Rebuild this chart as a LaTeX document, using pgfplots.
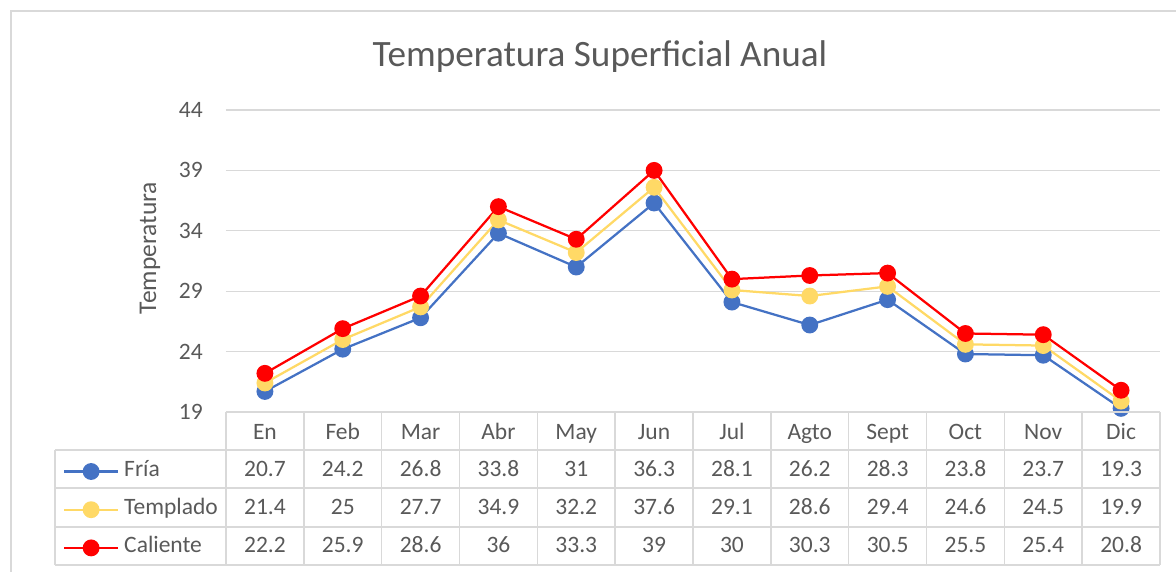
\documentclass[border=0pt]{standalone}
\usepackage{pgfplots}
\pgfplotsset{compat=1.18}
\usepackage{fontspec}
\setmainfont{Carlito}
\definecolor{txt}{HTML}{595959}
\definecolor{grd}{HTML}{D9D9D9}
\definecolor{cfria}{HTML}{4472C4}
\definecolor{ctemp}{HTML}{FFD966}
\definecolor{ccal}{HTML}{FF0000}
\newcommand{\tfont}{\fontsize{23.5}{27}\selectfont}
\begin{document}
\begin{tikzpicture}
\useasboundingbox (0,0) rectangle (1176pt,571pt);
% chart area border
\draw[grd, line width=1.8pt] (11pt,-5pt) -- (11pt,560pt) -- (1190pt,560pt);
\begin{axis}[
  at={(226pt,159pt)}, anchor=south west,
  scale only axis, width=934pt, height=302pt,
  clip=false,
  xmin=-0.5, xmax=11.5, ymin=19, ymax=44,
  xtick={0,...,11},
  xticklabels={En,Feb,Mar,Abr,May,Jun,Jul,Agto,Sept,Oct,Nov,Dic},
  ytick={19,24,29,34,39,44},
  ymajorgrids, grid style={grd, line width=1.3pt},
  axis line style={draw=none}, major tick length=0pt, tick style={draw=none},
  /pgf/number format/assume math mode=true,
  ticklabel style={font=\tfont, text=txt},
  yticklabel style={anchor=east, inner sep=0pt, xshift=-23pt},
  xticklabel style={anchor=base, inner sep=0pt, yshift=-27pt},
  title={Temperatura Superficial Anual},
  title style={at={(axis description cs:0.4004,1.1248)}, anchor=base, inner sep=0pt, font=\fontsize{37.2}{42}\selectfont, text=txt},
  ylabel={Temperatura},
  every axis y label/.style={at={(axis description cs:-0.0814,0.543)}, rotate=90, anchor=center, font=\fontsize{25.5}{28}\selectfont, text=txt},
  legend image code/.code={\draw[mark repeat=2,mark phase=2,#1] plot coordinates {(0pt,0pt)(27pt,0pt)(54pt,0pt)};},
  legend style={at={(rel axis cs:0,0)}, anchor=north west, xshift=-163pt, yshift=-49.5pt,
    draw=none, fill=none, inner sep=0pt, outer sep=0pt, row sep=18.2pt, column sep=5pt,
    font=\tfont, text=txt, nodes={inner sep=0pt, text height=15pt, text depth=5pt}},
  legend cell align=left,
]
\addplot[cfria, line width=2.25pt, mark=*, mark size=7.3pt, mark options={solid}] coordinates {
 (0,20.7) (1,24.2) (2,26.8) (3,33.8) (4,31) (5,36.3) (6,28.1) (7,26.2) (8,28.3) (9,23.8) (10,23.7) (11,19.3)};
\addlegendentry{Fría}
\addplot[ctemp, line width=2.25pt, mark=*, mark size=7.3pt] coordinates {
 (0,21.4) (1,25) (2,27.7) (3,34.9) (4,32.2) (5,37.6) (6,29.1) (7,28.6) (8,29.4) (9,24.6) (10,24.5) (11,19.9)};
\addlegendentry{Templado}
\addplot[ccal, line width=2.25pt, mark=*, mark size=7.3pt] coordinates {
 (0,22.2) (1,25.9) (2,28.6) (3,36) (4,33.3) (5,39) (6,30) (7,30.3) (8,30.5) (9,25.5) (10,25.4) (11,20.8)};
\addlegendentry{Caliente}
\end{axis}
% data table grid
\begin{scope}[x=1pt, y=1pt, grd, line width=1.5pt]
\draw (226,159) -- (1160,159);
\foreach \y in {121,83,44,6} \draw (55,\y) -- (1160,\y);
\draw (55,121) -- (55,6);
\foreach \i in {0,...,12} \draw ({226+\i*77.8333},159) -- ({226+\i*77.8333},6);
\end{scope}
% table values
\begin{scope}[x=1pt, y=1pt, every node/.style={anchor=base, inner sep=0pt, font=\tfont, text=txt}]
\foreach \v [count=\i from 0] in {20.7,24.2,26.8,33.8,31,36.3,28.1,26.2,28.3,23.8,23.7,19.3}
  \node at ({226+(\i+0.5)*77.8333},95) {\v};
\foreach \v [count=\i from 0] in {21.4,25,27.7,34.9,32.2,37.6,29.1,28.6,29.4,24.6,24.5,19.9}
  \node at ({226+(\i+0.5)*77.8333},56.7) {\v};
\foreach \v [count=\i from 0] in {22.2,25.9,28.6,36,33.3,39,30,30.3,30.5,25.5,25.4,20.8}
  \node at ({226+(\i+0.5)*77.8333},18.3) {\v};
\end{scope}
\end{tikzpicture}
\end{document}
